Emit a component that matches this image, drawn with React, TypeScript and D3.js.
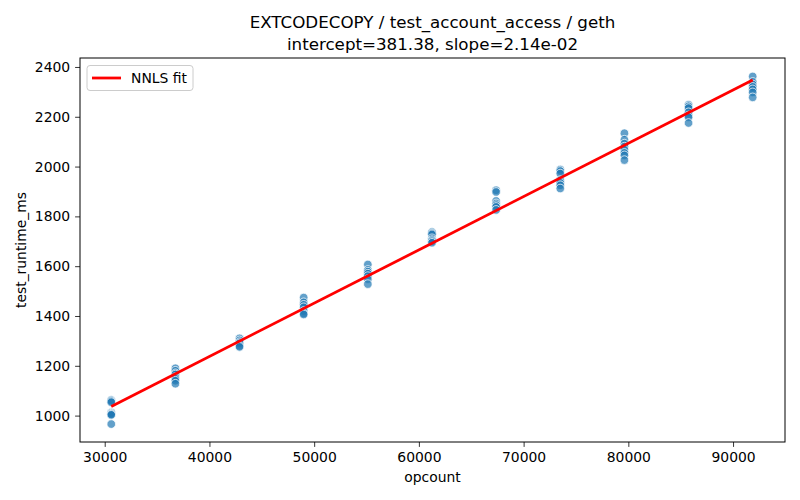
import { useEffect, useRef } from "react";
import * as d3 from "d3";

// opcount per cluster and measured runtimes (ms) at each
const opcounts = [30625, 36750, 42875, 49000, 55125, 61250, 67375, 73500, 79625, 85750, 91875];
const runtimes = [
  [1062, 1058, 1054, 1012, 1008, 1005, 1003, 966],
  [1190, 1180, 1170, 1165, 1155, 1148, 1140, 1128],
  [1310, 1302, 1295, 1290, 1280, 1276],
  [1474, 1455, 1445, 1435, 1420, 1410, 1406],
  [1607, 1585, 1578, 1570, 1560, 1548, 1528],
  [1737, 1732, 1728, 1712, 1705, 1700, 1694],
  [1905, 1898, 1862, 1852, 1845, 1838, 1826],
  [1988, 1982, 1972, 1945, 1935, 1925, 1912],
  [2134, 2108, 2092, 2080, 2068, 2055, 2045, 2026],
  [2248, 2242, 2235, 2218, 2205, 2198, 2175],
  [2362, 2340, 2330, 2320, 2310, 2298, 2278],
];
const intercept = 381.38;
const slope = 0.0214;
const xTicks = [30000, 40000, 50000, 60000, 70000, 80000, 90000];
const yTicks = [1000, 1200, 1400, 1600, 1800, 2000, 2200, 2400];

const FONT = "DejaVu Sans, sans-serif";

const App = () => {
  const svgRef = useRef<SVGSVGElement>(null);

  useEffect(() => {
    document.body.style.margin = "0";
    if (!svgRef.current) return;
    const svg = d3.select(svgRef.current);
    svg.selectAll("*").remove();

    const w = 800, h = 500, m = { top: 58, right: 15, bottom: 58, left: 80 };
    const x = d3.scaleLinear().domain([27640, 94960]).range([m.left, w - m.right]);
    const y = d3.scaleLinear().domain([894, 2436]).range([h - m.bottom, m.top]);

    svg.append("rect").attr("width", w).attr("height", h).attr("fill", "#fff");

    const points = opcounts.flatMap((o, i) => runtimes[i].map(v => ({ o, v })));
    svg.append("g")
      .selectAll("circle")
      .data(points)
      .join("circle")
      .attr("cx", d => x(d.o))
      .attr("cy", d => y(d.v))
      .attr("r", 4.3)
      .attr("fill", "#1f77b4")
      .attr("fill-opacity", 0.7)
      .attr("stroke", "#fff")
      .attr("stroke-width", 0.75);

    const x0 = opcounts[0], x1 = opcounts[opcounts.length - 1];
    svg.append("line")
      .attr("x1", x(x0)).attr("y1", y(intercept + slope * x0))
      .attr("x2", x(x1)).attr("y2", y(intercept + slope * x1))
      .attr("stroke", "red")
      .attr("stroke-width", 2.78);

    // frame
    svg.append("rect")
      .attr("x", m.left).attr("y", m.top)
      .attr("width", w - m.left - m.right).attr("height", h - m.top - m.bottom)
      .attr("fill", "none").attr("stroke", "#000").attr("stroke-width", 1);

    const xAxis = svg.append("g")
      .attr("transform", `translate(0,${h - m.bottom})`)
      .call(d3.axisBottom(x).tickValues(xTicks).tickFormat(d3.format("d")).tickSize(4.9).tickPadding(4.9));
    const yAxis = svg.append("g")
      .attr("transform", `translate(${m.left},0)`)
      .call(d3.axisLeft(y).tickValues(yTicks).tickFormat(d3.format("d")).tickSize(4.9).tickPadding(4.9));
    [xAxis, yAxis].forEach(a => {
      a.select(".domain").remove();
      a.selectAll("line").attr("stroke", "#000").attr("stroke-width", 0.8);
      a.selectAll("text").attr("font-family", FONT).attr("font-size", "13.9px").attr("fill", "#000");
    });

    svg.append("text")
      .attr("x", (m.left + w - m.right) / 2).attr("y", 482)
      .attr("text-anchor", "middle").attr("font-family", FONT).attr("font-size", "13.9px")
      .text("opcount");
    svg.append("text")
      .attr("transform", `translate(26,${(m.top + h - m.bottom) / 2}) rotate(-90)`)
      .attr("text-anchor", "middle").attr("font-family", FONT).attr("font-size", "13.9px")
      .text("test_runtime_ms");

    const cx = (m.left + w - m.right) / 2;
    svg.append("text")
      .attr("x", cx).attr("y", 28)
      .attr("text-anchor", "middle").attr("font-family", FONT).attr("font-size", "16.7px")
      .text("EXTCODECOPY / test_account_access / geth");
    svg.append("text")
      .attr("x", cx).attr("y", 50)
      .attr("text-anchor", "middle").attr("font-family", FONT).attr("font-size", "16.7px")
      .text("intercept=381.38, slope=2.14e-02");

    // legend
    const lg = svg.append("g");
    lg.append("rect")
      .attr("x", 87).attr("y", 65.5).attr("width", 106).attr("height", 25).attr("rx", 3)
      .attr("fill", "#fff").attr("fill-opacity", 0.8).attr("stroke", "#ccc").attr("stroke-width", 1);
    lg.append("line")
      .attr("x1", 92).attr("x2", 121).attr("y1", 78).attr("y2", 78)
      .attr("stroke", "red").attr("stroke-width", 2.78);
    lg.append("text")
      .attr("x", 131).attr("y", 83)
      .attr("font-family", FONT).attr("font-size", "13.9px")
      .text("NNLS fit");
  }, []);

  return <svg ref={svgRef} width={800} height={500} style={{ display: "block" }} />;
};

export default App;
